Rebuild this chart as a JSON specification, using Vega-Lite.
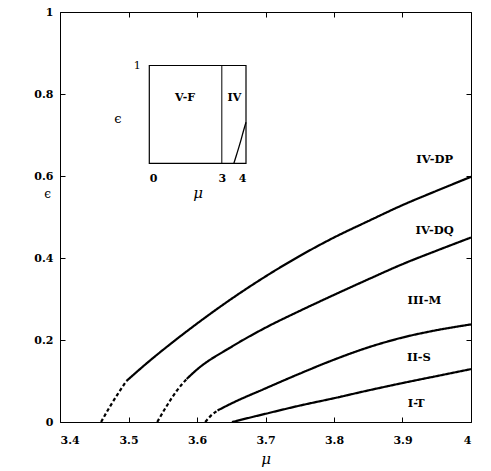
{
  "$schema": "https://vega.github.io/schema/vega-lite/v6.json",
  "width": 411,
  "height": 410,
  "autosize": "none",
  "padding": {"left": 60, "top": 12, "right": 20, "bottom": 49},
  "background": "white",
  "config": {
    "view": {"stroke": null},
    "axis": {"domainColor": "black", "tickColor": "black", "grid": false, "labelColor": "black", "titleColor": "black"}
  },
  "datasets": {
    "curves": [
      {"curve": "A", "seg": "dash", "mu": 3.460, "eps": 0.0},
      {"curve": "A", "seg": "dash", "mu": 3.472, "eps": 0.035},
      {"curve": "A", "seg": "dash", "mu": 3.485, "eps": 0.07},
      {"curve": "A", "seg": "dash", "mu": 3.497, "eps": 0.10},
      {"curve": "A", "seg": "solid", "mu": 3.497, "eps": 0.10},
      {"curve": "A", "seg": "solid", "mu": 3.53, "eps": 0.148},
      {"curve": "A", "seg": "solid", "mu": 3.561, "eps": 0.19},
      {"curve": "A", "seg": "solid", "mu": 3.60, "eps": 0.24},
      {"curve": "A", "seg": "solid", "mu": 3.65, "eps": 0.30},
      {"curve": "A", "seg": "solid", "mu": 3.70, "eps": 0.355},
      {"curve": "A", "seg": "solid", "mu": 3.75, "eps": 0.405},
      {"curve": "A", "seg": "solid", "mu": 3.80, "eps": 0.45},
      {"curve": "A", "seg": "solid", "mu": 3.85, "eps": 0.49},
      {"curve": "A", "seg": "solid", "mu": 3.90, "eps": 0.529},
      {"curve": "A", "seg": "solid", "mu": 3.95, "eps": 0.564},
      {"curve": "A", "seg": "solid", "mu": 4.0, "eps": 0.598},
      {"curve": "B", "seg": "dash", "mu": 3.542, "eps": 0.0},
      {"curve": "B", "seg": "dash", "mu": 3.555, "eps": 0.037},
      {"curve": "B", "seg": "dash", "mu": 3.57, "eps": 0.075},
      {"curve": "B", "seg": "dash", "mu": 3.585, "eps": 0.105},
      {"curve": "B", "seg": "solid", "mu": 3.585, "eps": 0.105},
      {"curve": "B", "seg": "solid", "mu": 3.60, "eps": 0.128},
      {"curve": "B", "seg": "solid", "mu": 3.65, "eps": 0.183},
      {"curve": "B", "seg": "solid", "mu": 3.70, "eps": 0.23},
      {"curve": "B", "seg": "solid", "mu": 3.75, "eps": 0.271},
      {"curve": "B", "seg": "solid", "mu": 3.80, "eps": 0.31},
      {"curve": "B", "seg": "solid", "mu": 3.85, "eps": 0.348},
      {"curve": "B", "seg": "solid", "mu": 3.90, "eps": 0.385},
      {"curve": "B", "seg": "solid", "mu": 3.95, "eps": 0.418},
      {"curve": "B", "seg": "solid", "mu": 4.0, "eps": 0.45},
      {"curve": "C", "seg": "dash", "mu": 3.612, "eps": 0.0},
      {"curve": "C", "seg": "dash", "mu": 3.62, "eps": 0.015},
      {"curve": "C", "seg": "dash", "mu": 3.63, "eps": 0.028},
      {"curve": "C", "seg": "solid", "mu": 3.63, "eps": 0.028},
      {"curve": "C", "seg": "solid", "mu": 3.65, "eps": 0.045},
      {"curve": "C", "seg": "solid", "mu": 3.70, "eps": 0.082},
      {"curve": "C", "seg": "solid", "mu": 3.75, "eps": 0.118},
      {"curve": "C", "seg": "solid", "mu": 3.80, "eps": 0.152},
      {"curve": "C", "seg": "solid", "mu": 3.85, "eps": 0.182},
      {"curve": "C", "seg": "solid", "mu": 3.90, "eps": 0.206},
      {"curve": "C", "seg": "solid", "mu": 3.95, "eps": 0.224},
      {"curve": "C", "seg": "solid", "mu": 4.0, "eps": 0.238},
      {"curve": "D", "seg": "solid", "mu": 3.651, "eps": 0.0},
      {"curve": "D", "seg": "solid", "mu": 3.70, "eps": 0.02},
      {"curve": "D", "seg": "solid", "mu": 3.75, "eps": 0.04},
      {"curve": "D", "seg": "solid", "mu": 3.80, "eps": 0.058},
      {"curve": "D", "seg": "solid", "mu": 3.85, "eps": 0.077},
      {"curve": "D", "seg": "solid", "mu": 3.90, "eps": 0.095},
      {"curve": "D", "seg": "solid", "mu": 3.95, "eps": 0.112},
      {"curve": "D", "seg": "solid", "mu": 4.0, "eps": 0.129}
    ],
    "labels": [
      {"text": "IV-DP", "mu": 3.947, "eps": 0.638},
      {"text": "IV-DQ", "mu": 3.947, "eps": 0.467},
      {"text": "III-M", "mu": 3.932, "eps": 0.296},
      {"text": "II-S", "mu": 3.924, "eps": 0.157},
      {"text": "I-T", "mu": 3.92, "eps": 0.043}
    ],
    "insetBox": [{"x0": 0, "x1": 4, "y0": 0, "y1": 1}],
    "insetRule": [{"x": 3, "y0": 0, "y1": 1}],
    "insetCurve": [
      {"mu": 3.5, "eps": 0.0},
      {"mu": 3.6, "eps": 0.08},
      {"mu": 3.7, "eps": 0.16},
      {"mu": 3.8, "eps": 0.245},
      {"mu": 3.9, "eps": 0.335},
      {"mu": 4.0, "eps": 0.42}
    ],
    "insetLabels": [
      {"text": "V-F", "mu": 1.48, "eps": 0.67},
      {"text": "IV", "mu": 3.52, "eps": 0.67}
    ]
  },
  "layer": [
    {
      "layer": [
        {
          "data": {"name": "curves"},
          "mark": {"type": "line", "color": "black", "strokeWidth": 2.2, "interpolate": "monotone"},
          "encoding": {
            "x": {
              "field": "mu", "type": "quantitative",
              "scale": {"domain": [3.4, 4], "nice": false, "zero": false},
              "axis": {
                "orient": "bottom", "values": [3.4, 3.5, 3.6, 3.7, 3.8, 3.9, 4], "format": "~g",
                "tickSize": -5, "labelPadding": 17, "labelFont": "DejaVu Serif", "labelFontWeight": "bold", "labelFontSize": 11,
                "title": "μ", "titleFont": "DejaVu Serif", "titleFontStyle": "italic", "titleFontWeight": "normal", "titleFontSize": 15, "titlePadding": 6
              }
            },
            "y": {
              "field": "eps", "type": "quantitative",
              "scale": {"domain": [0, 1], "nice": false},
              "axis": {
                "orient": "left", "values": [0, 0.2, 0.4, 0.6, 0.8, 1], "format": "~g",
                "tickSize": -5, "labelPadding": 12, "labelFont": "DejaVu Serif", "labelFontWeight": "bold", "labelFontSize": 11,
                "title": "ϵ", "titleFont": "DejaVu Serif", "titleFontWeight": "normal", "titleFontSize": 12,
                "titleAngle": 0, "titleX": -13, "titleY": 181, "titleAlign": "center", "titleBaseline": "middle"
              }
            },
            "detail": {"field": "curve", "type": "nominal"},
            "strokeDash": {"field": "seg", "type": "nominal", "scale": {"domain": ["dash", "solid"], "range": [[3.5, 2.5], [1, 0]]}, "legend": null}
          }
        },
        {
          "data": {"name": "labels"},
          "mark": {"type": "text", "font": "DejaVu Serif", "fontWeight": "bold", "fontSize": 11.5, "color": "black"},
          "encoding": {
            "x": {"field": "mu", "type": "quantitative", "axis": {"orient": "top", "labels": false, "tickSize": -5, "title": null, "values": [3.4, 3.5, 3.6, 3.7, 3.8, 3.9, 4]}},
            "y": {"field": "eps", "type": "quantitative", "axis": {"orient": "right", "labels": false, "tickSize": -5, "title": null, "values": [0, 0.2, 0.4, 0.6, 0.8, 1]}},
            "text": {"field": "text", "type": "nominal"}
          }
        }
      ],
      "resolve": {"axis": {"x": "independent", "y": "independent"}}
    },
    {
      "layer": [
        {
          "data": {"name": "insetBox"},
          "mark": {"type": "rect", "fill": "white", "stroke": "black", "strokeWidth": 1.2},
          "encoding": {
            "x": {
              "field": "x0", "type": "quantitative",
              "scale": {"domain": [0, 4], "range": [89.3, 186], "nice": false, "zero": false},
              "axis": {
                "orient": "bottom", "offset": -258.7, "values": [0, 3, 4], "format": "~g", "ticks": false, "domain": false,
                "labelPadding": 9, "labelFont": "DejaVu Serif", "labelFontWeight": "bold", "labelFontSize": 11,
                "title": "μ", "titleFont": "DejaVu Serif", "titleFontStyle": "italic", "titleFontWeight": "normal", "titleFontSize": 15, "titlePadding": 2
              }
            },
            "x2": {"field": "x1"},
            "y": {
              "field": "y0", "type": "quantitative",
              "scale": {"domain": [0, 1], "range": [151.3, 53.5], "nice": false, "zero": false},
              "axis": {
                "orient": "left", "offset": -89.3, "values": [1], "format": "~g", "ticks": false, "domain": false,
                "labelPadding": 9, "labelFont": "DejaVu Serif", "labelFontSize": 11,
                "title": "ϵ", "titleFont": "DejaVu Serif", "titleFontWeight": "normal", "titleFontSize": 13,
                "titleAngle": 0, "titleX": -32, "titleY": 106, "titleAlign": "center", "titleBaseline": "middle"
              }
            },
            "y2": {"field": "y1"}
          }
        },
        {
          "data": {"name": "insetRule"},
          "mark": {"type": "rule", "color": "black", "strokeWidth": 1},
          "encoding": {
            "x": {"field": "x", "type": "quantitative"},
            "y": {"field": "y0", "type": "quantitative"},
            "y2": {"field": "y1"}
          }
        },
        {
          "data": {"name": "insetCurve"},
          "mark": {"type": "line", "color": "black", "strokeWidth": 1.3, "interpolate": "monotone"},
          "encoding": {
            "x": {"field": "mu", "type": "quantitative"},
            "y": {"field": "eps", "type": "quantitative"}
          }
        },
        {
          "data": {"name": "insetLabels"},
          "mark": {"type": "text", "font": "DejaVu Serif", "fontWeight": "bold", "fontSize": 11, "color": "black"},
          "encoding": {
            "x": {"field": "mu", "type": "quantitative"},
            "y": {"field": "eps", "type": "quantitative"},
            "text": {"field": "text", "type": "nominal"}
          }
        }
      ]
    }
  ],
  "resolve": {"scale": {"x": "independent", "y": "independent"}}
}
